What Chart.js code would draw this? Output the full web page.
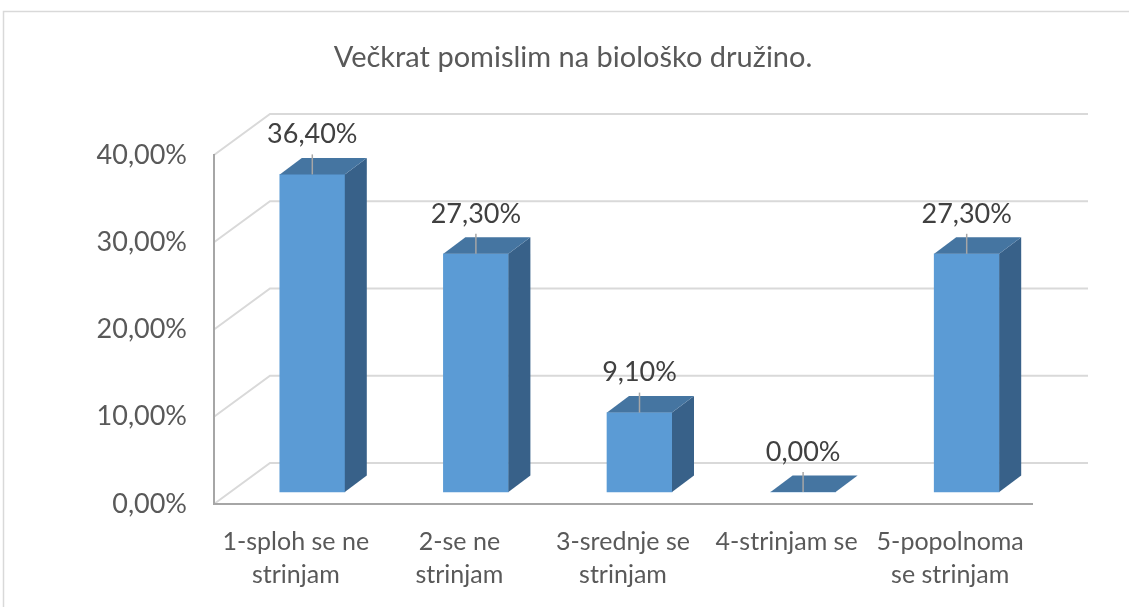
<!DOCTYPE html>
<html><head><meta charset="utf-8">
<script src="https://cdn.jsdelivr.net/npm/chart.js@4/dist/chart.umd.min.js"></script>
<style>html,body{margin:0;padding:0;background:#fff;}#wrap{position:relative;width:1129px;height:607px;}</style>
</head><body><div id="wrap"><canvas id="c" width="1129" height="607"></canvas></div>
<script>
const titleText = 'Večkrat pomislim na biološko družino.';
const categories = [
  ['1-sploh se ne', 'strinjam'],
  ['2-se ne', 'strinjam'],
  ['3-srednje se', 'strinjam'],
  ['4-strinjam se'],
  ['5-popolnoma', 'se strinjam']
];
const values = [36.4, 27.3, 9.1, 0, 27.3];
const yTicks = [0, 10, 20, 30, 40];

const fmt = v => v.toFixed(2).replace('.', ',') + '%';
const FONT = 'Lato, "Open Sans", sans-serif';
const WALL = { x: 56, y: -41 };
const BAR_SHIFT = { x: 16.5, y: -12 };
const BAR_DEPTH = { x: 22, y: -16.5 };

const threeD = {
  id: 'threeD',
  beforeDraw(chart) {
    const { ctx, chartArea: a, scales: { y } } = chart;
    ctx.save();
    ctx.strokeStyle = '#d9d9d9';
    ctx.lineWidth = 1.5;
    ctx.strokeRect(3.5, 11.5, 1300, 800);
    ctx.lineWidth = 2;
    ctx.strokeStyle = '#d9d9d9';
    yTicks.forEach(v => {
      const py = y.getPixelForValue(v);
      ctx.beginPath();
      ctx.moveTo(a.left, py);
      ctx.lineTo(a.left + WALL.x, py + WALL.y);
      ctx.lineTo(a.right + WALL.x, py + WALL.y);
      ctx.stroke();
    });
    ctx.restore();
  },
  beforeDatasetsDraw(chart) {
    chart.ctx.save();
    chart.ctx.translate(BAR_SHIFT.x, BAR_SHIFT.y);
  },
  afterDatasetsDraw(chart) {
    const ctx = chart.ctx;
    const meta = chart.getDatasetMeta(0);
    meta.data.forEach((bar, i) => {
      const { x, y, base, width } = bar.getProps(['x', 'y', 'base', 'width'], true);
      const x0 = x - width / 2, x1 = x + width / 2;
      const dx = BAR_DEPTH.x, dy = BAR_DEPTH.y;
      ctx.fillStyle = '#386189';
      ctx.beginPath();
      ctx.moveTo(x1, y); ctx.lineTo(x1 + dx, y + dy); ctx.lineTo(x1 + dx, base + dy); ctx.lineTo(x1, base);
      ctx.closePath(); ctx.fill();
      ctx.fillStyle = '#4575A1';
      ctx.beginPath();
      ctx.moveTo(x0, y); ctx.lineTo(x0 + dx, y + dy); ctx.lineTo(x1 + dx, y + dy); ctx.lineTo(x1, y);
      ctx.closePath(); ctx.fill();
      ctx.strokeStyle = '#a6a6a6';
      ctx.lineWidth = 1.5;
      ctx.beginPath();
      ctx.moveTo(x, y - 20); ctx.lineTo(x, y);
      ctx.stroke();
      ctx.fillStyle = '#404040';
      ctx.font = '27px ' + FONT;
      ctx.textAlign = 'center';
      ctx.textBaseline = 'middle';
      ctx.fillText(fmt(values[i]), x, y - 40);
    });
    ctx.restore();
  },
  afterDraw(chart) {
    const ctx = chart.ctx;
    ctx.save();
    ctx.fillStyle = '#595959';
    ctx.font = '29px ' + FONT;
    ctx.textAlign = 'center';
    ctx.textBaseline = 'middle';
    ctx.fillText(titleText, 573, 58);
    ctx.restore();
  }
};

new Chart(document.getElementById('c'), {
  type: 'bar',
  data: {
    labels: categories,
    datasets: [{
      data: values,
      backgroundColor: '#5B9BD5',
      borderWidth: 0,
      barThickness: 65,
      clip: false
    }]
  },
  options: {
    responsive: false,
    animation: false,
    layout: { padding: { left: 10, right: 97, top: 155, bottom: 0 } },
    plugins: { legend: { display: false }, tooltip: { enabled: false }, title: { display: false } },
    scales: {
      x: {
        grid: { display: false },
        border: { display: true, color: '#a6a6a6', width: 2 },
        ticks: { color: '#595959', font: { family: FONT, size: 25, lineHeight: 1.3 }, padding: 14, maxRotation: 0, autoSkip: false },
        afterFit: s => { s.height = 103; }
      },
      y: {
        min: 0, max: 40,
        grid: { display: false },
        border: { display: true, color: '#a6a6a6', width: 2 },
        ticks: { stepSize: 10, color: '#595959', font: { family: FONT, size: 27 }, padding: 19, callback: v => fmt(v) },
        afterFit: s => { s.width = 204; }
      }
    }
  },
  plugins: [threeD]
});
</script>
</body></html>
